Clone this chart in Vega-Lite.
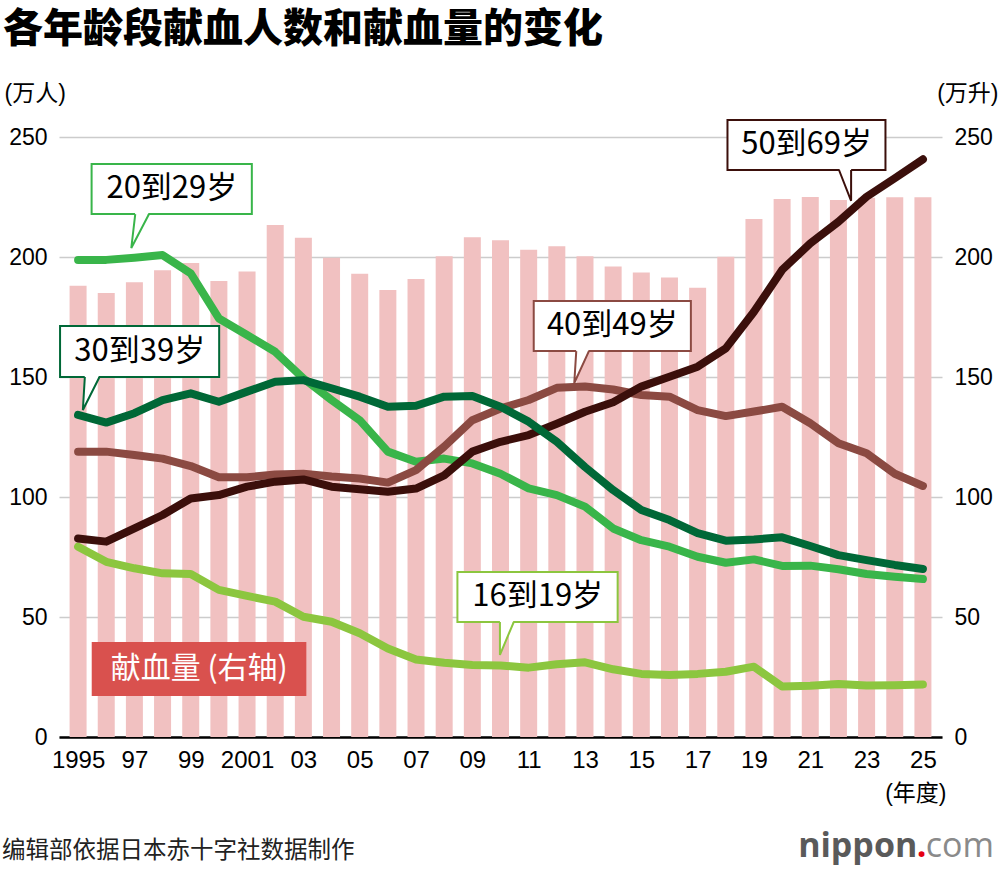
{
  "$schema": "https://vega.github.io/schema/vega-lite/v6.json",
  "width": 883,
  "height": 600,
  "autosize": {"type": "none"},
  "padding": {"left": 59, "top": 137, "right": 58, "bottom": 133},
  "background": "white",
  "title": {
    "text": "各年龄段献血人数和献血量的变化",
    "anchor": "start",
    "frame": "group",
    "font": "Noto Sans CJK SC",
    "fontSize": 40,
    "fontWeight": 900,
    "color": "#000000",
    "dx": -56,
    "offset": 32
  },
  "config": {
    "view": {"stroke": null},
    "font": "Liberation Sans, Noto Sans CJK SC"
  },
  "datasets": {
    "blood": [
      {"year": 1995, "献血量": 188, "16到19岁": 79.3, "20到29岁": 198.8, "30到39岁": 134.2, "40到49岁": 118.9, "50到69岁": 82.7},
      {"year": 1996, "献血量": 185, "16到19岁": 73, "20到29岁": 198.8, "30到39岁": 131, "40到49岁": 118.9, "50到69岁": 81.4},
      {"year": 1997, "献血量": 189.5, "16到19岁": 70.3, "20到29岁": 199.7, "30到39岁": 134.9, "40到49岁": 117.5, "50到69岁": 86.9},
      {"year": 1998, "献血量": 194.5, "16到19岁": 68.2, "20到29岁": 200.8, "30到39岁": 140.4, "40到49岁": 116, "50到69岁": 92.5},
      {"year": 1999, "献血量": 197.5, "16到19岁": 67.9, "20到29岁": 193.2, "30到39岁": 143.2, "40到49岁": 112.9, "50到69岁": 99.4},
      {"year": 2000, "献血量": 190, "16到19岁": 61.3, "20到29岁": 174.4, "30到39岁": 139.7, "40到49岁": 108.2, "50到69岁": 100.8},
      {"year": 2001, "献血量": 194, "16到19岁": 58.8, "20到29岁": 167.5, "30到39岁": 143.9, "40到49岁": 108.2, "50到69岁": 104.3},
      {"year": 2002, "献血量": 213.3, "16到19岁": 56.4, "20到29岁": 160.5, "30到39岁": 148, "40到49岁": 109.4, "50到69岁": 106.4},
      {"year": 2003, "献血量": 208, "16到19岁": 50.1, "20到29岁": 149.4, "30到39岁": 148.7, "40到49岁": 109.7, "50到69岁": 107.3},
      {"year": 2004, "献血量": 199.7, "16到19岁": 48, "20到29岁": 140.4, "30到39岁": 145.3, "40到49岁": 108.5, "50到69岁": 104.3},
      {"year": 2005, "献血量": 193, "16到19岁": 43.2, "20到29岁": 132, "30到39岁": 141.8, "40到49岁": 107.7, "50到69岁": 103.2},
      {"year": 2006, "献血量": 186.2, "16到19岁": 36.9, "20到29岁": 118.9, "30到39岁": 137.6, "40到49岁": 106, "50到69岁": 102.2},
      {"year": 2007, "献血量": 190.8, "16到19岁": 32.3, "20到29岁": 114.7, "30到39岁": 138, "40到49岁": 111.2, "50到69岁": 103.5},
      {"year": 2008, "献血量": 200.3, "16到19岁": 30.9, "20到29岁": 116, "30到39岁": 141.8, "40到49岁": 121, "50到69岁": 109},
      {"year": 2009, "献血量": 208.2, "16到19岁": 30, "20到29岁": 114, "30到39岁": 142.1, "40到49岁": 132, "50到69岁": 118.9},
      {"year": 2010, "献血量": 207, "16到19岁": 29.8, "20到29岁": 109.7, "30到39岁": 137.6, "40到49岁": 136.9, "50到69岁": 123},
      {"year": 2011, "献血量": 203, "16到19岁": 28.9, "20到29岁": 103.6, "30到39岁": 131.4, "40到49岁": 140.4, "50到69岁": 125.8},
      {"year": 2012, "献血量": 204.5, "16到19岁": 30.3, "20到29岁": 100.8, "30到39岁": 123, "40到49岁": 145.5, "50到69岁": 130.5},
      {"year": 2013, "献血量": 200.3, "16到19岁": 31.1, "20到29岁": 96, "30到39岁": 112.5, "40到49岁": 146, "50到69岁": 135.5},
      {"year": 2014, "献血量": 196, "16到19岁": 28.2, "20到29岁": 86.9, "30到39岁": 102.9, "40到49岁": 144.8, "50到69岁": 139.5},
      {"year": 2015, "献血量": 193.5, "16到19岁": 26.3, "20到29岁": 82, "30到39岁": 94.6, "40到49岁": 142.5, "50到69岁": 146},
      {"year": 2016, "献血量": 191.5, "16到19岁": 25.8, "20到29岁": 79.3, "30到39岁": 90.4, "40到49岁": 141.8, "50到69岁": 150.1},
      {"year": 2017, "献血量": 187.2, "16到19岁": 26.3, "20到29岁": 75.1, "30到39岁": 84.9, "40到49岁": 136.2, "50到69岁": 154.3},
      {"year": 2018, "献血量": 200.1, "16到19岁": 27.2, "20到29岁": 72.6, "30到39岁": 81.8, "40到49岁": 133.7, "50到69岁": 161.9},
      {"year": 2019, "献血量": 215.8, "16到19岁": 29.3, "20到29岁": 74, "30到39岁": 82.3, "40到49岁": 135.6, "50到69岁": 177.2},
      {"year": 2020, "献血量": 224.2, "16到19岁": 21, "20到29岁": 71.3, "30到39岁": 83.2, "40到49岁": 137.6, "50到69岁": 194.6},
      {"year": 2021, "献血量": 225, "16到19岁": 21.4, "20到29岁": 71.4, "30到39岁": 79.6, "40到49岁": 130.7, "50到69岁": 205.7},
      {"year": 2022, "献血量": 223.7, "16到19岁": 22.1, "20到29岁": 69.9, "30到39岁": 75.8, "40到49岁": 122.4, "50到69岁": 214.7},
      {"year": 2023, "献血量": 224.7, "16到19岁": 21.5, "20到29岁": 67.9, "30到39岁": 73.7, "40到49岁": 118.2, "50到69岁": 225.1},
      {"year": 2024, "献血量": 224.9, "16到19岁": 21.6, "20到29岁": 66.8, "30到39岁": 71.7, "40到49岁": 109.7, "50到69岁": 232.8},
      {"year": 2025, "献血量": 224.9, "16到19岁": 21.9, "20到29岁": 65.8, "30到39岁": 70, "40到49岁": 104.6, "50到69岁": 240.7}
    ],
    "callouts": [
      {"series": "20到29岁", "x1": 1995.48, "x2": 2001.17, "y1": 238.75, "y2": 217.9, "tx": 1998.33, "ty": 228.3},
      {"series": "30到39岁", "x1": 1994.36, "x2": 2000.01, "y1": 171.25, "y2": 150, "tx": 1997.19, "ty": 160.6},
      {"series": "40到49岁", "x1": 2011.18, "x2": 2016.76, "y1": 181.7, "y2": 160.8, "tx": 2013.97, "ty": 171.2},
      {"series": "50到69岁", "x1": 2018.06, "x2": 2023.67, "y1": 257.1, "y2": 236.25, "tx": 2020.87, "ty": 246.7},
      {"series": "16到19岁", "x1": 2008.47, "x2": 2014.16, "y1": 68.75, "y2": 47.9, "tx": 2011.32, "ty": 58.3},
      {"series": "献血量 (右轴)", "x1": 1995.52, "x2": 2003.07, "y1": 39.2, "y2": 17.5, "tx": 1999.3, "ty": 28.3}
    ],
    "pointers": [
      {"series": "20到29岁", "py": 218.7, "xa": 1997.03, "xb": 1997.52},
      {"series": "20到29岁", "py": 203.75, "xa": 1996.89, "xb": 1996.89},
      {"series": "30到39岁", "py": 150.8, "xa": 1995.24, "xb": 1995.76},
      {"series": "30到39岁", "py": 136.25, "xa": 1995.17, "xb": 1995.17},
      {"series": "40到49岁", "py": 161.6, "xa": 2012.69, "xb": 2013.14},
      {"series": "40到49岁", "py": 147.5, "xa": 2012.62, "xb": 2012.62},
      {"series": "50到69岁", "py": 237.05, "xa": 2022.02, "xb": 2022.45},
      {"series": "50到69岁", "py": 223.4, "xa": 2022.45, "xb": 2022.45},
      {"series": "16到19岁", "py": 48.7, "xa": 2009.98, "xb": 2010.47},
      {"series": "16到19岁", "py": 34.2, "xa": 2009.98, "xb": 2009.98}
    ],
    "edges": [
      {"series": "20到29岁", "k": 0, "ex": 1997.03, "ey": 217.9},
      {"series": "20到29岁", "k": 1, "ex": 1996.89, "ey": 203.75},
      {"series": "20到29岁", "k": 2, "ex": 1997.52, "ey": 217.9},
      {"series": "30到39岁", "k": 0, "ex": 1995.24, "ey": 150},
      {"series": "30到39岁", "k": 1, "ex": 1995.17, "ey": 136.25},
      {"series": "30到39岁", "k": 2, "ex": 1995.76, "ey": 150},
      {"series": "40到49岁", "k": 0, "ex": 2012.69, "ey": 160.8},
      {"series": "40到49岁", "k": 1, "ex": 2012.62, "ey": 147.5},
      {"series": "40到49岁", "k": 2, "ex": 2013.14, "ey": 160.8},
      {"series": "50到69岁", "k": 0, "ex": 2022.02, "ey": 236.25},
      {"series": "50到69岁", "k": 1, "ex": 2022.45, "ey": 223.4},
      {"series": "50到69岁", "k": 2, "ex": 2022.45, "ey": 236.25},
      {"series": "16到19岁", "k": 0, "ex": 2009.98, "ey": 47.9},
      {"series": "16到19岁", "k": 1, "ex": 2009.98, "ey": 34.2},
      {"series": "16到19岁", "k": 2, "ex": 2010.47, "ey": 47.9}
    ]
  },
  "layer": [
    {
      "data": {"name": "blood"},
      "mark": {"type": "bar", "size": 17, "color": "#f1c1c1"},
      "encoding": {
        "x": {
          "field": "year",
          "type": "quantitative",
          "scale": {"domain": [1994.5, 2025.5], "nice": false, "zero": false},
          "axis": {
            "values": [1995, 1997, 1999, 2001, 2003, 2005, 2007, 2009, 2011, 2013, 2015, 2017, 2019, 2021, 2023, 2025],
            "labelExpr": "datum.value == 1995 || datum.value == 2001 ? toString(datum.value) : substring(toString(datum.value), 2)",
            "labelFontSize": 24,
            "labelColor": "#000000",
            "labelPadding": 11,
            "labelFlush": false,
            "ticks": false,
            "grid": false,
            "domainColor": "#000000",
            "domainWidth": 2.5,
            "title": "(年度)",
            "titleFontSize": 23,
            "titleFontWeight": "normal",
            "titleColor": "#000000",
            "titleAlign": "right",
            "titleAnchor": "end",
            "titleBaseline": "middle",
            "titleX": 887,
            "titleY": 56
          }
        },
        "y": {
          "field": "献血量",
          "type": "quantitative",
          "scale": {"domain": [0, 250], "nice": false},
          "axis": {
            "orient": "right",
            "values": [0, 50, 100, 150, 200, 250],
            "labelFontSize": 23,
            "labelColor": "#000000",
            "labelPadding": 12,
            "grid": false,
            "domain": false,
            "ticks": false,
            "title": "(万升)",
            "titleAngle": 0,
            "titleAlign": "right",
            "titleBaseline": "middle",
            "titleFontSize": 23,
            "titleFontWeight": "normal",
            "titleColor": "#000000",
            "titleX": 56,
            "titleY": -44
          }
        }
      }
    },
    {
      "layer": [
        {
          "data": {"name": "blood"},
          "transform": [
            {"fold": ["16到19岁", "20到29岁", "40到49岁", "50到69岁", "30到39岁"], "as": ["series", "value"]}
          ],
          "mark": {"type": "line", "strokeWidth": 8, "strokeCap": "round", "strokeJoin": "round"},
          "encoding": {
            "x": {"field": "year", "type": "quantitative"},
            "y": {
              "field": "value",
              "type": "quantitative",
              "scale": {"domain": [0, 250], "nice": false},
              "axis": {
                "orient": "left",
                "values": [0, 50, 100, 150, 200, 250],
                "labelFontSize": 23,
                "labelColor": "#000000",
                "labelPadding": 12,
                "grid": true,
                "gridColor": "#cccccc",
                "gridWidth": 1.5,
                "domain": false,
                "ticks": false,
                "title": "(万人)",
                "titleAngle": 0,
                "titleAlign": "left",
                "titleBaseline": "middle",
                "titleFontSize": 23,
                "titleFontWeight": "normal",
                "titleColor": "#000000",
                "titleX": -55,
                "titleY": -44
              }
            },
            "stroke": {
              "field": "series",
              "type": "nominal",
              "scale": {
                "domain": ["16到19岁", "20到29岁", "30到39岁", "40到49岁", "50到69岁", "献血量 (右轴)"],
                "range": ["#8cc63f", "#39b54a", "#006837", "#8b4a42", "#3b0f0b", "#d9514e"]
              },
              "legend": null
            }
          }
        },
        {
          "data": {"name": "callouts"},
          "mark": {"type": "rect", "fill": "#000000", "opacity": 0.13, "xOffset": 4, "yOffset": 5},
          "encoding": {
            "x": {"field": "x1", "type": "quantitative"},
            "x2": {"field": "x2"},
            "y": {"field": "y1", "type": "quantitative"},
            "y2": {"field": "y2"}
          }
        },
        {
          "data": {"name": "callouts"},
          "mark": {"type": "rect", "strokeWidth": 2},
          "encoding": {
            "x": {"field": "x1", "type": "quantitative"},
            "x2": {"field": "x2"},
            "y": {"field": "y1", "type": "quantitative"},
            "y2": {"field": "y2"},
            "stroke": {"field": "series", "type": "nominal", "legend": null},
            "fill": {
              "field": "series",
              "type": "nominal",
              "scale": {
                "domain": ["16到19岁", "20到29岁", "30到39岁", "40到49岁", "50到69岁", "献血量 (右轴)"],
                "range": ["#ffffff", "#ffffff", "#ffffff", "#ffffff", "#ffffff", "#d9514e"]
              },
              "legend": null
            }
          }
        },
        {
          "data": {"name": "pointers"},
          "mark": {"type": "area", "orient": "horizontal", "color": "#ffffff", "opacity": 1},
          "encoding": {
            "y": {"field": "py", "type": "quantitative"},
            "x": {"field": "xa", "type": "quantitative", "stack": null},
            "x2": {"field": "xb"},
            "detail": {"field": "series", "type": "nominal"}
          }
        },
        {
          "data": {"name": "edges"},
          "mark": {"type": "line", "strokeWidth": 2, "strokeJoin": "miter"},
          "encoding": {
            "x": {"field": "ex", "type": "quantitative"},
            "y": {"field": "ey", "type": "quantitative"},
            "order": {"field": "k", "type": "quantitative"},
            "stroke": {"field": "series", "type": "nominal", "legend": null}
          }
        },
        {
          "data": {"name": "callouts"},
          "mark": {"type": "text", "font": "Noto Sans CJK SC", "align": "center", "baseline": "middle"},
          "encoding": {
            "x": {"field": "tx", "type": "quantitative"},
            "y": {"field": "ty", "type": "quantitative"},
            "text": {"field": "series"},
            "fill": {"condition": {"test": "datum.series === '献血量 (右轴)'", "value": "#ffffff"}, "value": "#000000"},
            "size": {"condition": {"test": "datum.series === '献血量 (右轴)'", "value": 30}, "value": 31}
          }
        },
        {
          "data": {"values": [{"note": "编辑部依据日本赤十字社数据制作", "nx": 1992.3, "ny": -47.5}]},
          "mark": {"type": "text", "font": "Noto Sans CJK SC", "fontSize": 23.5, "align": "left", "baseline": "middle", "color": "#222222"},
          "encoding": {
            "x": {"field": "nx", "type": "quantitative"},
            "y": {"field": "ny", "type": "quantitative"},
            "text": {"field": "note"}
          }
        },
        {
          "data": {"values": [{"t": "nippon", "lx": 2024.8, "ly": -46}]},
          "mark": {"type": "text", "font": "Open Sans", "fontWeight": "bold", "fontSize": 34, "align": "right", "baseline": "middle", "color": "#5a5a5a"},
          "encoding": {
            "x": {"field": "lx", "type": "quantitative"},
            "y": {"field": "ly", "type": "quantitative"},
            "text": {"field": "t"}
          }
        },
        {
          "data": {"values": [{"t": ".", "lx": 2024.78, "ly": -46}]},
          "mark": {"type": "text", "font": "Open Sans", "fontWeight": "bold", "fontSize": 34, "align": "left", "baseline": "middle", "color": "#e60012"},
          "encoding": {
            "x": {"field": "lx", "type": "quantitative"},
            "y": {"field": "ly", "type": "quantitative"},
            "text": {"field": "t"}
          }
        },
        {
          "data": {"values": [{"t": "com", "lx": 2025.1, "ly": -46}]},
          "mark": {"type": "text", "font": "Open Sans", "fontWeight": "normal", "fontSize": 34, "align": "left", "baseline": "middle", "color": "#8a8a8a"},
          "encoding": {
            "x": {"field": "lx", "type": "quantitative"},
            "y": {"field": "ly", "type": "quantitative"},
            "text": {"field": "t"}
          }
        }
      ]
    }
  ],
  "resolve": {"scale": {"y": "independent"}}
}
